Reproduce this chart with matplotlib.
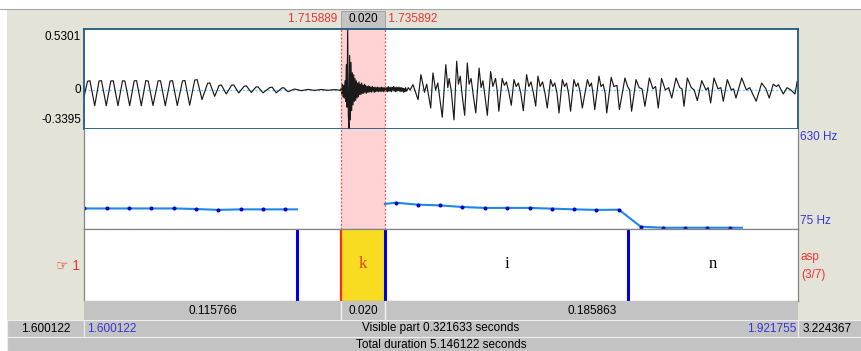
import matplotlib
matplotlib.use('Agg')
import matplotlib.pyplot as plt
from matplotlib.patches import Rectangle
from matplotlib.transforms import blended_transform_factory

plt.rcParams['font.family'] = ['Liberation Sans', 'DejaVu Sans']

# time window and selection (seconds)
t_start, t_end = 1.600122, 1.921755
sel_start, sel_end = 1.715889, 1.735892
wave_min, wave_max = -0.3395, 0.5301
pitch_floor, pitch_ceiling = 75, 630

# waveform vertices: ms after 1.6 s, amplitude
fade_ms = [0.12, 1.7, 2.8, 4.94, 6.9, 8.0, 10.16, 12.2, 13.3, 15.43, 17.45, 18.55, 20.7,
           22.7, 23.8, 25.93, 27.95, 29.05, 31.2, 33.5, 34.6, 36.74, 38.9, 40.0, 42.15,
           44.5, 45.6, 47.73, 50.0, 51.1, 53.28, 55.8, 56.8, 59.0, 61.0, 62.0, 64.22,
           66.6, 67.6, 69.81, 72.3, 73.3, 75.49, 77.6, 78.5, 80.76, 83.9, 84.9, 86.75,
           89.3, 90.1, 92.02, 95, 98, 101, 104, 107, 110, 113, 115.5]
fade_amp = [-0.06, 0.075, 0.081, -0.137, 0.078, 0.081, -0.137, 0.078, 0.080, -0.137,
            0.080, 0.078, -0.137, 0.079, 0.081, -0.137, 0.081, 0.078, -0.135, 0.079,
            0.080, -0.137, 0.078, 0.081, -0.135, 0.079, 0.082, -0.133, 0.086, 0.090,
            -0.084, 0.058, 0.061, -0.055, 0.040, 0.043, -0.035, 0.041, 0.043, -0.026,
            0.033, 0.035, -0.022, 0.026, 0.027, -0.025, 0.022, 0.024, -0.025, 0.018,
            0.019, -0.015, 0.008, -0.006, 0.005, -0.004, 0.004, -0.003, 0.003, -0.002]

burst_ms = [115.9, 116.2, 116.5, 116.8, 117.1, 117.4, 117.7, 118.0, 118.3, 118.6, 118.9,
            119.2, 119.5, 119.8, 120.1, 120.4, 120.7, 121.0, 121.3, 121.6, 121.9, 122.2,
            122.5, 122.8, 123.1, 123.4, 123.7, 124.0, 124.3, 124.6, 124.9, 125.2, 125.5,
            125.8, 126.1, 126.4, 126.7, 127.0, 127.3, 127.6, 127.9, 128.2, 128.5, 128.8,
            129.1, 129.4, 129.7, 130.0, 130.3, 130.6, 130.9, 131.2, 131.5, 131.8, 132.1,
            132.4, 132.7, 133.0, 133.3, 133.6, 133.9, 134.2, 134.5, 134.8, 135.1, 135.4,
            135.7, 136.0, 136.3, 136.6, 136.9, 137.2, 137.5, 137.8, 138.1, 138.4, 138.7,
            139.0, 139.3, 139.6, 139.9, 140.2, 140.5, 140.8, 141.1, 141.4, 141.7, 142.0,
            142.3, 142.6, 142.9, 143.2, 143.5, 143.8, 144.1, 144.4, 144.7, 145.0, 145.5,
            146.2, 147.0, 148.3, 150.6, 151.9, 153.5, 154.5, 156.3, 157.3, 158.5, 159.5]
burst_amp = [0.01, -0.03, 0.05, -0.06, 0.04, -0.07, 0.08, -0.10, 0.22, -0.15, 0.53,
             -0.22, -0.34, 0.30, -0.26, 0.24, -0.18, 0.15, -0.13, 0.133, -0.10, 0.10,
             -0.09, 0.08, -0.07, 0.06, -0.06, 0.07, -0.04, 0.05, -0.04, 0.06, -0.03,
             0.04, -0.03, 0.05, -0.02, 0.04, -0.03, 0.03, -0.02, 0.035, -0.02, 0.03,
             -0.015, 0.025, -0.02, 0.03, -0.01, 0.02, -0.02, 0.025, -0.015, 0.02, -0.01,
             0.025, -0.015, 0.02, -0.01, 0.02, -0.015, 0.025, -0.01, 0.02, -0.015, 0.02,
             -0.01, 0.025, -0.01, 0.02, -0.015, 0.03, -0.01, 0.02, -0.01, 0.025, -0.015,
             0.02, 0.0, 0.03, -0.01, 0.02, -0.015, 0.025, -0.01, 0.02, -0.005, 0.025,
             -0.01, 0.02, -0.015, 0.02, -0.01, 0.015, -0.02, 0.01, -0.015, 0.02, -0.01,
             0.02, 0.0, 0.046, -0.084, 0.133, -0.02, 0.05, -0.157, 0.148, 0.0, 0.06]

voiced_ms = [161.5, 163.1, 164.0, 164.6, 165.5, 166.8, 168.0, 168.8, 169.6, 170.5, 171.6,
             172.8, 173.6, 174.5, 175.5, 176.6, 178.1, 179.0, 179.8, 180.8, 181.8, 183.3,
             184.3, 185.5, 186.2, 187.0, 188.5, 189.5, 190.4, 191.5, 192.6, 193.8, 194.8,
             195.8, 196.9, 198.0, 199.5, 200.5, 201.5, 202.6, 203.6, 204.6, 205.6, 206.7,
             207.8, 208.8, 210.3, 211.3, 212.2, 213.2, 214.1, 215.6, 216.6, 217.5, 218.4,
             219.3, 220.8, 221.8, 222.7, 223.7, 224.6, 226.9, 227.9, 228.7, 229.4, 230.2,
             232.1, 233.0, 234.0, 234.9, 235.6, 237.6, 238.8, 240.2, 241.3, 243.8, 245.0,
             245.9, 246.8, 248.8, 250.2, 251.5, 252.8, 254.8, 256.4, 257.6, 258.8, 260.3,
             262.0, 263.5, 264.9, 266.8, 268.5, 269.5, 270.4, 271.9, 273.7, 275.0, 276.4,
             278.4, 280.3, 281.3, 282.4, 283.9, 285.7, 287.0, 288.1, 289.9, 291.7, 292.7,
             293.8, 296.4, 298.5, 300.0, 302.9, 305.4, 307.3, 308.8, 310.6, 312.0, 313.0,
             315.1, 316.8, 318.5, 320.4, 321.4, 321.8]
voiced_amp = [-0.237, 0.22, 0.02, 0.10, 0.0, -0.26, 0.25, 0.05, 0.12, -0.05, -0.22,
              0.235, 0.05, 0.10, -0.05, -0.20, 0.19, 0.02, 0.08, -0.06, -0.22, 0.16,
              0.03, 0.10, 0.0, -0.185, 0.10, 0.04, 0.07, -0.02, -0.133, 0.09, 0.03,
              0.06, -0.03, -0.18, 0.133, 0.03, 0.07, -0.03, -0.14, 0.12, 0.03, 0.07,
              -0.03, -0.157, 0.09, 0.03, 0.06, -0.03, -0.20, 0.09, 0.03, 0.06, -0.03,
              -0.185, 0.09, 0.03, 0.06, -0.03, -0.157, 0.09, 0.03, 0.06, -0.03, -0.171,
              0.12, 0.03, 0.05, -0.03, -0.20, 0.11, 0.03, 0.04, -0.171, 0.104, 0.03,
              0.0, -0.185, 0.09, 0.02, 0.01, -0.142, 0.104, 0.01, 0.03, -0.157, 0.10,
              0.0, 0.02, -0.07, 0.104, 0.02, 0.01, -0.142, 0.104, 0.02, 0.0, -0.093,
              0.081, 0.0, 0.02, -0.113, 0.104, 0.01, 0.02, -0.098, 0.09, 0.0, 0.01,
              -0.07, 0.104, 0.0, 0.02, -0.098, 0.06, 0.01, -0.07, 0.05, 0.03, 0.045,
              -0.035, 0.02, 0.0, -0.035, 0.076, 0.07]

# pitch contour (s, Hz); first/last entries are line ends without a frame dot
pitch1_t = [1.6001, 1.6105, 1.6204, 1.6303, 1.6407, 1.6506, 1.6605, 1.6708, 1.6808, 1.6907, 1.6961]
pitch1_hz = [189, 189, 189, 189, 189, 186, 181, 184, 184, 184, 184]
pitch2_t = [1.7357, 1.7405, 1.7506, 1.7605, 1.7705, 1.7808, 1.7907, 1.8010, 1.8109, 1.8209,
            1.8308, 1.8411, 1.8509, 1.8609, 1.8709, 1.8808, 1.8911, 1.8965]
pitch2_hz = [214, 221, 210, 206, 197, 192, 192, 192, 188, 184, 181, 182, 88, 82, 82, 82, 82, 82]

# text grid tier
boundaries = [1.69607, 1.715889, 1.735892, 1.84518]
boundary_colors = ['#0000e0', '#ff3000', '#0000e0', '#0000e0']
interval_starts = [t_start, 1.69607, 1.715889, 1.735892, 1.84518]
interval_ends = [1.69607, 1.715889, 1.735892, 1.84518, t_end]
interval_labels = ['', '', 'k', 'i', 'n']
dur_labels = ['0.115766', '0.020', '0.185863']

BEIGE = '#e4e3d7'
CELL = '#c3c3c3'
RED = '#e83535'
BLUE = '#3535d5'
PINK = '#ffd3d3'

W, H = 862, 351
fig = plt.figure(figsize=(W / 100, H / 100), dpi=100)
fig.patch.set_facecolor('white')


def panel(x0, y0, x1, y1):
    return fig.add_axes([x0 / W, 1 - y1 / H, (x1 - x0) / W, (y1 - y0) / H])


bg = panel(0, 0, W, H)
bg.set_xlim(0, W)
bg.set_ylim(H, 0)
bg.axis('off')
bg.add_patch(Rectangle((7, 9), W - 7, H - 9, color=BEIGE, lw=0))
bg.plot([0, W], [9, 9], color='#a8a8a8', lw=0.8)

# bottom rows
bg.add_patch(Rectangle((7, 320), 77, 17, fc=CELL, ec='#eeeeee', lw=0.8))
bg.add_patch(Rectangle((84, 320), 714, 17, fc=CELL, ec='#eeeeee', lw=0.8))
bg.add_patch(Rectangle((798, 320), 70, 17, fc=CELL, ec='#eeeeee', lw=0.8))
bg.add_patch(Rectangle((7, 337), W, 16, fc=CELL, ec='#eeeeee', lw=0.8))
fs = 8.5
bg.text(45.5, 328.5, f'{t_start:.6f}', ha='center', va='center', fontsize=fs)
bg.text(87, 328.5, f'{t_start:.6f}', ha='left', va='center', fontsize=fs, color=BLUE)
bg.text(441, 328.5, f'Visible part {t_end - t_start:.6f} seconds', ha='center', va='center', fontsize=fs)
bg.text(796, 328.5, f'{t_end:.6f}', ha='right', va='center', fontsize=fs, color=BLUE)
bg.text(803, 328.5, '3.224367', ha='left', va='center', fontsize=fs)
bg.text(441, 344.5, 'Total duration 5.146122 seconds', ha='center', va='center', fontsize=fs)

# waveform
wave_ax = panel(84, 29, 798, 129)
wave_ax.set_xlim(t_start, t_end)
wave_ax.set_ylim(wave_min, wave_max)
wave_ax.axvspan(sel_start, sel_end, color=PINK, lw=0)
wave_ax.axhline(0, color='#7cc6ea', lw=1, ls=(0, (1.5, 1.5)))
all_ms = fade_ms + burst_ms + voiced_ms
all_amp = fade_amp + burst_amp + voiced_amp
wave_ax.plot([1.6 + m / 1000 for m in all_ms], all_amp, color='#1a1a1a', lw=0.85)
wave_ax.set_xticks([])
wave_ax.set_yticks([])
for s in wave_ax.spines.values():
    s.set_color('#1d5a80')
    s.set_linewidth(1.3)

# pitch
pitch_ax = panel(84, 129, 798, 229)
pitch_ax.set_xlim(t_start, t_end)
pitch_ax.set_ylim(pitch_floor, pitch_ceiling)
pitch_ax.axvspan(sel_start, sel_end, color=PINK, lw=0)
pitch_ax.plot(pitch1_t, pitch1_hz, color='#1e88e8', lw=1.5, marker='o', ms=1.9,
              mfc='#0000c8', mec='#0000c8', markevery=list(range(len(pitch1_t) - 1)))
pitch_ax.plot(pitch2_t, pitch2_hz, color='#1e88e8', lw=1.5, marker='o', ms=1.9,
              mfc='#0000c8', mec='#0000c8', markevery=list(range(1, len(pitch2_t) - 1)))
pitch_ax.set_xticks([])
pitch_ax.set_yticks([])
for s in pitch_ax.spines.values():
    s.set_color('#858585')
    s.set_linewidth(0.9)
pitch_ax.spines['top'].set_visible(False)

for ax in (wave_ax, pitch_ax):
    for t in (sel_start, sel_end):
        ax.axvline(t, color='#e85050', lw=0.9, ls=(0, (1.5, 1.5)))

# tier
tier_ax = panel(84, 229, 798, 301)
tier_ax.set_xlim(t_start, t_end)
tier_ax.set_ylim(0, 1)
tier_ax.axvspan(sel_start, sel_end, color='#f8dc22', lw=0)
for b, c in zip(boundaries, boundary_colors):
    tier_ax.axvline(b, color=c, lw=2.2 if c != '#ff3000' else 1.6)
for a, b, lab in zip(interval_starts, interval_ends, interval_labels):
    col = '#e2401a' if lab == 'k' else 'black'
    tier_ax.text((a + b) / 2, 0.52, lab, ha='center', va='center', fontsize=12,
                 family='Liberation Serif', color=col)
tier_ax.set_xticks([])
tier_ax.set_yticks([])
for s in tier_ax.spines.values():
    s.set_color('#858585')
    s.set_linewidth(0.9)

# duration strip
dur_ax = panel(84, 301, 798, 320)
dur_ax.set_xlim(t_start, t_end)
dur_ax.set_ylim(0, 1)
dur_ax.set_facecolor(CELL)
edges = [t_start, sel_start, sel_end, t_end]
for a, b, lab in zip(edges[:-1], edges[1:], dur_labels):
    dur_ax.text((a + b) / 2, 0.5, lab, ha='center', va='center', fontsize=fs)
for t in (sel_start, sel_end):
    dur_ax.axvline(t, color='#f2f2f2', lw=1)
dur_ax.set_xticks([])
dur_ax.set_yticks([])
for s in dur_ax.spines.values():
    s.set_visible(False)

# labels around the panels
top = blended_transform_factory(wave_ax.transData, bg.transData)
bg.add_patch(Rectangle((sel_start, 11), sel_end - sel_start, 18, transform=top,
                       fc=CELL, ec='#9a9a9a', lw=0.6))
bg.text(sel_start, 19.5, f'{sel_start:.6f} ', transform=top, ha='right', va='center',
        fontsize=fs, color=RED)
bg.text((sel_start + sel_end) / 2, 19.5, f'{sel_end - sel_start:.3f}', transform=top,
        ha='center', va='center', fontsize=fs)
bg.text(sel_end, 19.5, f' {sel_end:.6f}', transform=top, ha='left', va='center',
        fontsize=fs, color=RED)

bg.text(81, 36.5, f'{wave_max:.4f}', ha='right', va='center', fontsize=fs)
bg.text(81, 90, '0', ha='right', va='center', fontsize=fs)
bg.text(81, 120, f'{wave_min:.4f}', ha='right', va='center', fontsize=fs)
bg.text(800, 137, f'{pitch_ceiling} Hz', ha='left', va='center', fontsize=fs, color=BLUE)
bg.text(800, 221, f'{pitch_floor} Hz', ha='left', va='center', fontsize=fs, color=BLUE)
bg.text(80, 266, '\u261e 1', ha='right', va='center', fontsize=10, color=RED,
        family=['Liberation Sans', 'DejaVu Sans'])
bg.text(801, 257, 'asp', ha='left', va='center', fontsize=fs, color=RED)
bg.text(801, 275, '(3/7)', ha='left', va='center', fontsize=fs, color=RED)

fig.savefig('out.png', dpi=100)
